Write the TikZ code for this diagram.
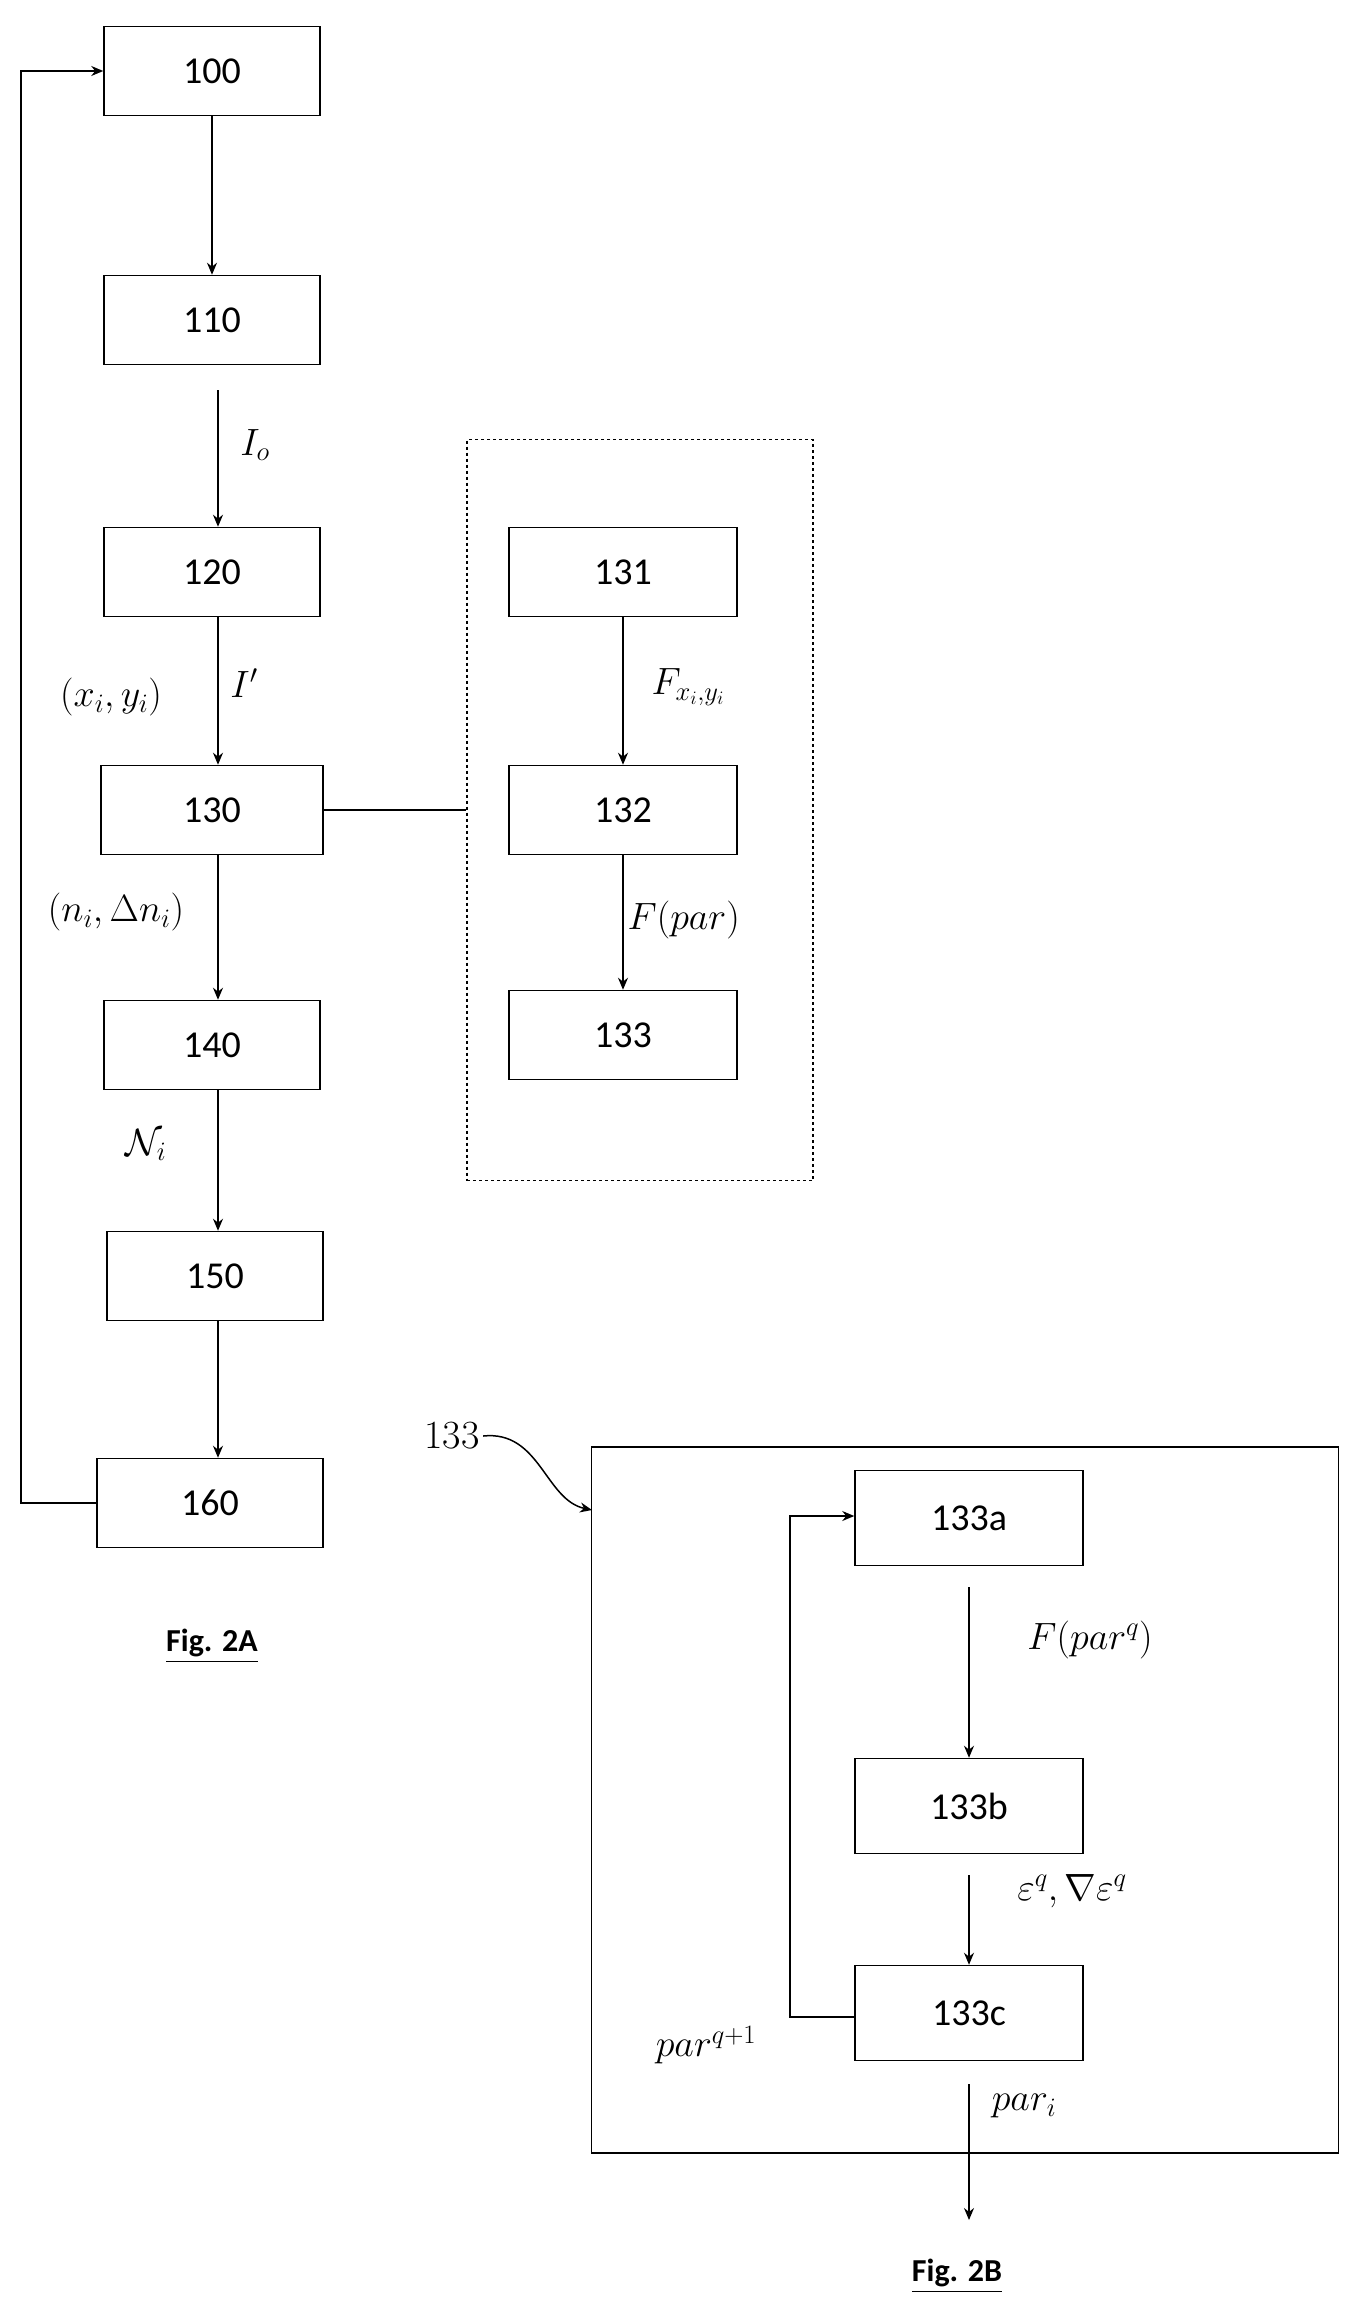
\RequirePackage{fix-cm}
\documentclass[tikz,border=0pt]{standalone}
\usepackage{amsmath,amssymb}
\usepackage{fontspec}
\newfontfamily\boxfont{Carlito}
\usetikzlibrary{arrows.meta}
\begin{document}
\begin{tikzpicture}[x=1pt,y=-1pt,
  box/.style={draw,line width=1.5pt,minimum width=#1,minimum height=89pt,inner sep=0pt,font=\boxfont\fontsize{38}{44}\selectfont},
  box/.default=216pt,
  sbox/.style={draw,line width=1.5pt,minimum width=228pt,minimum height=95pt,inner sep=0pt,font=\boxfont\fontsize{38}{44}\selectfont},
  arr/.style={line width=1.5pt,-{Stealth[length=12pt,width=10pt]}},
  ln/.style={line width=1.5pt},
  lab/.style={font=\fontsize{38}{44}\selectfont},
  fig/.style={font=\boxfont\bfseries\fontsize{32}{38}\selectfont}]
\useasboundingbox (0,0) rectangle (1354,2312);
% Fig 2A
\node[box] (n100) at (212,71) {100};
\node[box] (n110) at (212,320) {110};
\node[box] (n120) at (212,572) {120};
\node[box=222pt] (n130) at (212,810) {130};
\node[box] (n140) at (212,1045) {140};
\node[box] (n150) at (215,1276) {150};
\node[box=226pt] (n160) at (210,1503) {160};
\coordinate (c110) at (218,390);
\draw[arr] (n100) -- (n100|-n110.north);
\draw[arr] (c110) -- (c110|-n120.north);
\draw[arr] (n120.south-|218,0) -- (218,0|-n130.north);
\draw[arr] (n130.south-|218,0) -- (218,0|-n140.north);
\draw[arr] (n140.south-|218,0) -- (218,0|-n150.north);
\draw[arr] (n150.south-|218,0) -- (218,0|-n160.north);
\coordinate (fb1) at (21,1503);
\coordinate (fb2) at (21,71);
\draw[arr] (n160.west) -- (fb1) -- (fb2) -- (n100.west);
\node[lab] (lio) at (255,445) {$I_o$};
\node[lab] (lip) at (244,683) {$I'$};
\node[lab] (lxy) at (111,697) {$(x_i,y_i)$};
\node[lab] (lnn) at (116,912) {$(n_i,\Delta n_i)$};
\node[lab] (lN) at (146,1145) {$\mathcal{N}_i$};
\node[fig] (f2a) at (212,1646) {\underline{Fig. 2A}};
% dashed group
\node[draw,dashed,line width=1.5pt,minimum width=346pt,minimum height=741pt] (grp) at (640,810) {};
\node[box=228pt] (n131) at (623,572) {131};
\node[box=228pt] (n132) at (623,810) {132};
\node[box=228pt] (n133) at (623,1035) {133};
\draw[arr] (n131) -- (n132);
\draw[arr] (n132) -- (n133);
\draw[ln] (n130.east) -- (grp.west|-n130.east);
\node[lab,anchor=west] (lF) at (648,687) {$F_{x_i,y_i}$};
\node[lab,anchor=west] (lFp) at (624,920) {$F(par)$};
% Fig 2B
\node[draw,line width=1.5pt,minimum width=747pt,minimum height=706pt] (big) at (965,1800) {};
\node[sbox] (a) at (969,1518) {133a};
\node[sbox] (b) at (969,1806) {133b};
\node[sbox] (c) at (969,2013) {133c};
\coordinate (ca) at (969,1587);
\coordinate (cb) at (969,1875);
\draw[arr] (ca) -- (a.south|-b.north);
\draw[arr] (cb) -- (b.south|-c.north);
\coordinate (l1) at (790,2017);
\coordinate (l2) at (790,1516);
\draw[arr] (c.west|-l1) -- (l1) -- (l2) -- (a.west|-l2);
\coordinate (o1) at (969,2084);
\coordinate (o2) at (969,2220);
\draw[arr] (o1) -- (o2);
\node[font=\fontsize{40}{46}\selectfont] (l133) at (452,1436) {133};
\coordinate (ctip) at (592,1510);
\draw[arr] (l133.east) .. controls (540,1430) and (545,1500) .. (ctip);
\node[lab] (lFq) at (1090,1640) {$F(par^q)$};
\node[lab] (le) at (1072,1891) {$\varepsilon^q,\nabla\varepsilon^q$};
\node[lab] (lq1) at (706,2045) {$par^{q+1}$};
\node[lab] (lpi) at (1024,2106) {$par_i$};
\node[fig] (f2b) at (957,2276) {\underline{Fig. 2B}};
\end{tikzpicture}
\end{document}
